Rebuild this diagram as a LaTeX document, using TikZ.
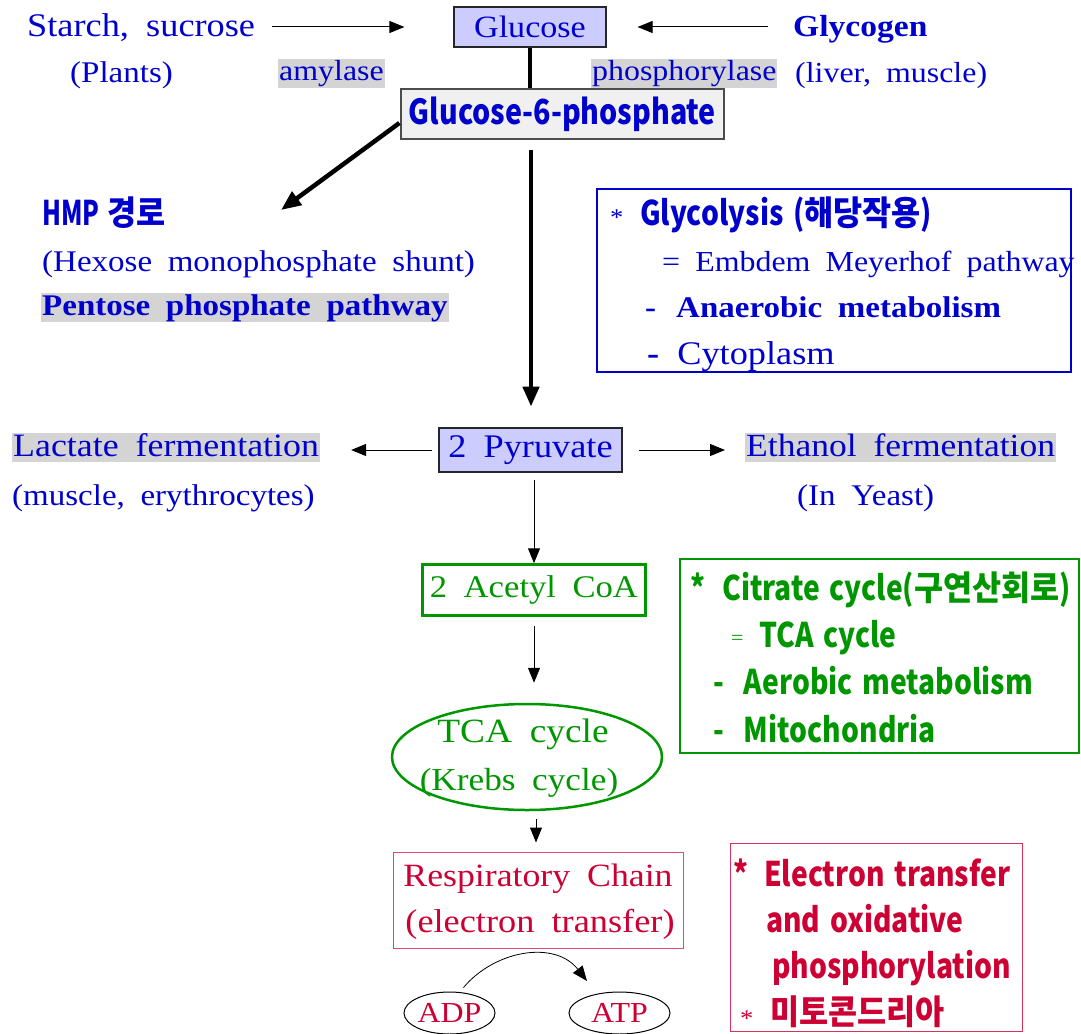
\documentclass[tikz,border=0pt]{standalone}
\usepackage{fontspec}
\usetikzlibrary{arrows.meta,shapes.geometric}
\setmainfont{Liberation Serif}[FakeStretch=1.1,WordSpace=1.9]
\newfontfamily\korb{Noto Sans CJK KR}[FakeStretch=0.83,WordSpace=1.5]
\newfontfamily\kork{Noto Sans CJK KR}[FakeStretch=0.93]
\definecolor{cblue}{RGB}{0,0,204}
\definecolor{cgreen}{RGB}{0,150,0}
\definecolor{cred}{RGB}{204,0,51}
\definecolor{hl}{RGB}{212,212,212}
\definecolor{lav}{RGB}{204,204,255}
\definecolor{pale}{RGB}{240,240,240}
\newcommand\kk[1]{{\kork\bfseries #1}}
\tikzset{
  txt/.style={anchor=base west,inner sep=0pt,font=\fontsize{29}{29}\selectfont},
  txtm/.style={txt,font=\fontsize{30}{30}\selectfont},
  txtl/.style={txt,font=\fontsize{33}{33}\selectfont},
  sans/.style={anchor=base west,inner sep=0pt,font=\korb\bfseries\fontsize{34}{34}\selectfont},
  hl box/.style={fill=hl,text height=22pt,text depth=7pt,inner xsep=1pt},
  thin arrow/.style={-{Triangle[length=15pt,width=12pt]},line width=1pt},
  thick arrow/.style={-{Triangle[length=20pt,width=16pt]},line width=4.5pt},
}
\begin{document}
\begin{tikzpicture}[x=1pt,y=-1pt]
\useasboundingbox (0,0) rectangle (1081,1033);
% top row
\node[txtl,text=cblue] (starch) at (27,37) {Starch, sucrose};
\node[draw=black!85,fill=lav,line width=1.2pt,minimum width=152pt,minimum height=40pt,inner sep=0pt,text=cblue,font=\fontsize{31}{31}\selectfont] (glucose) at (530,27) {Glucose};
\node[txt,text=cblue,font=\bfseries\fontsize{30.5}{30}\selectfont] (glycogen) at (793,37) {Glycogen};
\node[txtm,text=cblue] (plants) at (70,82) {(Plants)};
\node[txt,hl box,text=cblue] (amylase) at (278,81) {amylase};
\node[txt,hl box,text=cblue] (phos) at (591,81) {phosphorylase};
\node[txt,text=cblue] (liver) at (795,82) {(liver, muscle)};
\node[draw=black!70,fill=pale,line width=1.2pt,minimum width=323pt,minimum height=50pt,inner sep=0pt,text=cblue,font=\korb\bfseries\fontsize{34.5}{34}\selectfont] (g6p) at (562.5,114) {Glucose-6-phosphate};
\draw[thin arrow,shorten <=17pt,shorten >=49pt] (starch.east |- glucose.center) -- (glucose.west);
\draw[thin arrow,shorten <=25pt,shorten >=31pt] (glycogen.west |- glucose.center) -- (glucose.east);
\draw[line width=4.5pt] (glucose.south) -- (glucose.south |- g6p.north);
% HMP
\coordinate (hmptip) at (281,210);
\draw[thick arrow] (g6p.west) ++(-1,9) -- (hmptip);
\node[sans,text=cblue] (hmp) at (42,225) {\addfontfeatures{FakeStretch=0.72}HMP \kk{경로}};
\node[txtm,text=cblue] (hexose) at (42,271) {(Hexose monophosphate shunt)};
\node[txt,hl box,text=cblue,font=\bfseries\fontsize{30}{30}\selectfont] (pentose) at (41,315) {Pentose phosphate pathway};
% glycolysis box
\draw[cblue,line width=2.5pt] (597,189) rectangle (1071,372);
\node[txt,text=cblue,font=\fontsize{24}{24}\selectfont] (ast1) at (610,225) {*};
\node[sans,text=cblue] (glyco) at (640,225) {Glycolysis (\kk{해당작용})};
\node[txt,text=cblue] (embden) at (662,271) {= Embdem Meyerhof pathway};
\node[txt,text=cblue,font=\bfseries\fontsize{30}{30}\selectfont] (anaer) at (645,317) {-\hspace{20pt}Anaerobic metabolism};
\node[txtl,text=cblue] (cyto) at (647,364) {\textbf{-}\hspace{18pt}Cytoplasm};
% pyruvate row
\node[draw=black!85,fill=lav,line width=1.2pt,minimum width=183pt,minimum height=44pt,inner sep=0pt,text=cblue,font=\fontsize{33}{33}\selectfont] (pyr) at (530.5,450) {2 Pyruvate};
\draw[thick arrow] (g6p.south -| glucose.south) ++(1,10) -- ++(0,257);
\node[txt,hl box,text=cblue,text height=23pt,text depth=6pt,font=\fontsize{32.6}{33}\selectfont] (lactate) at (12,456) {Lactate fermentation};
\node[txtm,text=cblue] (muscle) at (12,505) {(muscle, erythrocytes)};
\node[txt,hl box,text=cblue,text height=23pt,text depth=6pt,font=\fontsize{32.3}{33}\selectfont] (ethanol) at (745,456) {Ethanol fermentation};
\node[txtm,text=cblue] (yeast) at (797,505) {(In Yeast)};
\draw[thin arrow,shorten <=6pt,shorten >=31pt] (pyr.west) -- (lactate.east |- pyr.west);
\draw[thin arrow,shorten <=16pt,shorten >=20pt] (pyr.east) -- (ethanol.west |- pyr.east);
% acetyl
\node[draw=cgreen,line width=2.5pt,minimum width=223pt,minimum height=51pt,inner sep=0pt,text=cgreen,font=\fontsize{31.5}{31}\selectfont] (acetyl) at (534,590) {2 Acetyl CoA};
\draw[thin arrow,shorten <=7pt] (pyr.south -| acetyl.north) -- (acetyl.north);
\node[ellipse,draw=cgreen,line width=2.5pt,minimum width=270pt,minimum height=106pt,inner sep=0pt] (tca) at (527,757) {};
\node[txt,anchor=base,text=cgreen,font=\fontsize{34}{34}\selectfont] (tcat) at (523,742) {TCA cycle};
\node[txt,anchor=base,text=cgreen,font=\fontsize{32}{32}\selectfont] (krebs) at (519,790) {(Krebs cycle)};
\draw[thin arrow,shorten <=9pt,shorten >=20pt] (acetyl.south) -- (acetyl.south |- tca.north);
% citrate box
\draw[cgreen,line width=2.5pt] (680,559) rectangle (1079,753);
\node[sans,text=cgreen] (ast2) at (690,600) {*};
\node[sans,text=cgreen] (citrate) at (722,600) {Citrate cycle(\kk{구연산회로})};
\node[txt,text=cgreen,font=\fontsize{20}{20}\selectfont] (eq2) at (731,644) {=};
\node[sans,text=cgreen] (tca2) at (759,647) {TCA cycle};
\node[sans,text=cgreen] (aerob) at (713,694) {-\hspace{20pt}Aerobic metabolism};
\node[sans,text=cgreen] (mito) at (713,742) {-\hspace{20pt}Mitochondria};
% respiratory chain
\node[draw=cred!70,line width=1pt,minimum width=290pt,minimum height=96pt,inner sep=0pt] (resp) at (538,900) {};
\node[txt,anchor=base,text=cred,font=\fontsize{32.5}{32}\selectfont] (respt) at (538,886) {Respiratory Chain};
\node[txt,anchor=base,text=cred,font=\fontsize{33}{33}\selectfont] (elect) at (540,932) {(electron transfer)};
\draw[thin arrow,shorten <=8pt,shorten >=9pt] (tca.south -| 536,0) -- (resp.north -| 536,0);
\node[ellipse,draw=black,line width=1pt,minimum width=91pt,minimum height=42pt,inner sep=0pt,text=cred,font=\fontsize{29}{29}\selectfont] (adp) at (449.5,1013) {ADP};
\node[ellipse,draw=black,line width=1pt,minimum width=101pt,minimum height=42pt,inner sep=0pt,text=cred,font=\fontsize{29}{29}\selectfont] (atp) at (619.5,1013) {ATP};
\coordinate (atptip) at (587,981);
\draw[-{Triangle[length=15pt,width=12pt]},line width=0.8pt] (adp.north) ++(14,-4) .. controls (495,950) and (555,940) .. (atptip);
% red box
\draw[cred!80,line width=1pt] (730,843) rectangle (1022,1031);
\node[sans,text=cred] (ast3) at (733,886) {*};
\node[sans,text=cred] (et) at (764,886) {Electron transfer};
\node[sans,text=cred] (ox) at (766,932) {and oxidative};
\node[sans,text=cred] (phosph) at (772,978) {phosphorylation};
\node[txt,text=cred,font=\fontsize{24}{24}\selectfont] (ast4) at (740,1026) {*};
\node[sans,text=cred] (mitok) at (770,1024) {\kk{미토콘드리아}};
\end{tikzpicture}
\end{document}
